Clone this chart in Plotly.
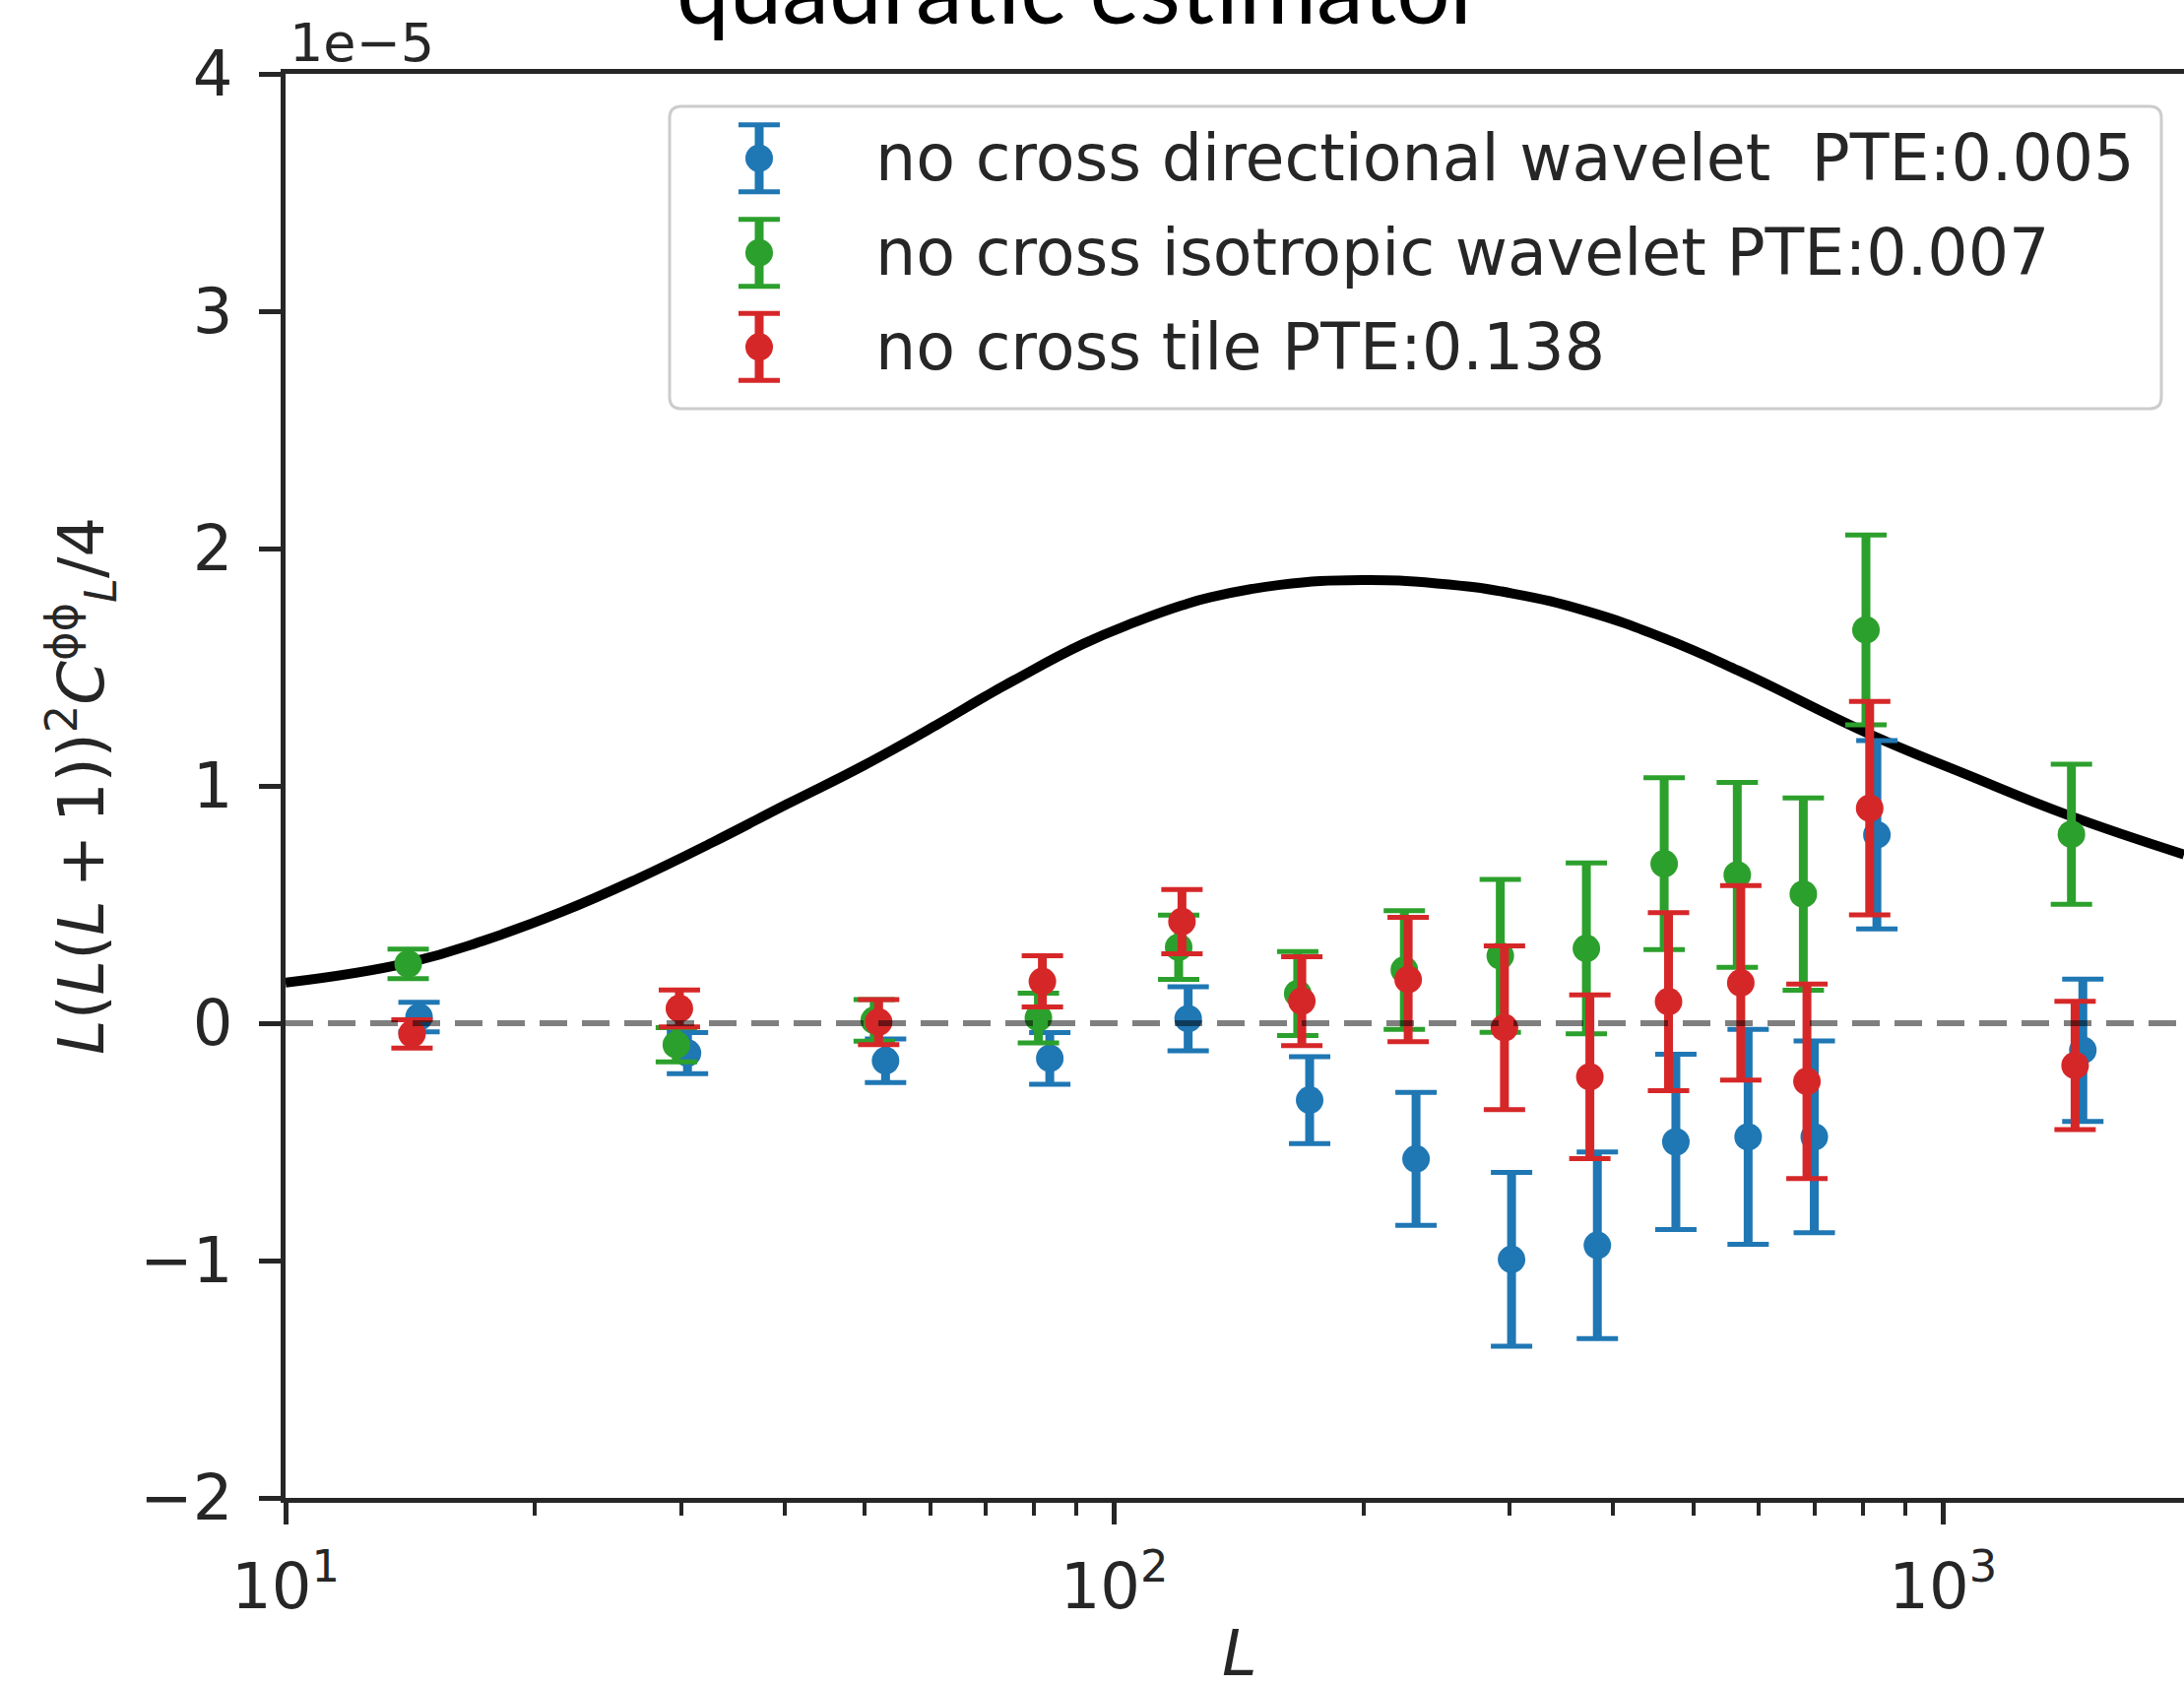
import plotly.graph_objects as go

# ---------------- data (y values in units of 1e-5) ----------------
theory_L = [10, 14.07, 17.47, 21.54, 26.57, 32.75, 40.39, 49.8, 61.4, 69.8, 75.7, 91.7,
            106, 120.6, 130.8, 158.5, 198.8, 245.1, 302.1, 372.6, 459.3, 566.2, 818,
            1076, 1415, 1954]
theory_val = [0.171, 0.255, 0.352, 0.469, 0.608, 0.762, 0.925, 1.085, 1.262, 1.376, 1.445,
              1.598, 1.690, 1.760, 1.795, 1.847, 1.867, 1.853, 1.811, 1.735, 1.624, 1.486,
              1.216, 1.043, 0.877, 0.711]

dir_L = [14.49, 30.55, 52.97, 83.6, 122.8, 172.1, 231.3, 301.6, 382.8, 476.1, 582.0, 699.4, 832.3, 1475]
dir_y = [0.026, -0.126, -0.158, -0.148, 0.019, -0.324, -0.572, -0.995, -0.936, -0.500, -0.479, -0.479, 0.794, -0.114]
dir_err = [0.062, 0.087, 0.092, 0.109, 0.135, 0.183, 0.280, 0.366, 0.393, 0.369, 0.453, 0.404, 0.397, 0.300]

iso_L = [14.06, 29.62, 51.33, 81.0, 119.6, 166.5, 223.9, 292.3, 371.3, 460.9, 564.7, 678.4, 807.4, 1429]
iso_y = [0.250, -0.091, 0.012, 0.022, 0.320, 0.125, 0.224, 0.284, 0.315, 0.672, 0.625, 0.544, 1.657, 0.796]
iso_err = [0.062, 0.072, 0.088, 0.105, 0.135, 0.177, 0.250, 0.322, 0.360, 0.362, 0.390, 0.405, 0.400, 0.295]

tile_L = [14.21, 29.87, 51.96, 81.9, 120.7, 168.4, 226.3, 295.7, 374.9, 466.5, 570.2, 685.3, 815.8, 1443.6]
tile_y = [-0.045, 0.062, 0.005, 0.176, 0.428, 0.093, 0.184, -0.019, -0.226, 0.091, 0.170, -0.245, 0.906, -0.178]
tile_err = [0.060, 0.078, 0.095, 0.108, 0.135, 0.187, 0.262, 0.345, 0.345, 0.375, 0.410, 0.410, 0.450, 0.270]

series_names = ["no cross directional wavelet\u00a0 PTE:0.005",
                "no cross isotropic wavelet PTE:0.007",
                "no cross tile PTE:0.138"]
series_colors = ["#1f77b4", "#2ca02c", "#d62728"]

x_tickvals = [10, 100, 1000]
x_ticktext = ["10<sup>1</sup>", "10<sup>2</sup>", "10<sup>3</sup>"]
x_minor_vals = [20, 30, 40, 50, 60, 70, 80, 90, 200, 300, 400, 500, 600, 700, 800, 900, 2000]
y_tickvals = [-2, -1, 0, 1, 2, 3, 4]
y_ticktext = ["\u22122", "\u22121", "0", "1", "2", "3", "4"]

title_text = "quadratic estimator"
offset_text = "1e\u22125"
x_label = "<i>L</i>"
y_label = ("<i>L</i>(<i>L</i>(<i>L</i>\u2009+\u20091))<sup>2</sup><i>C</i>"
           "<sup>\u03d5\u03d5</sup><sub><i>L</i></sub>/4")

# ---------------- layout geometry (pixels) ----------------
W, H = 2218, 1711
PX0, PX1, PY0, PY1 = 290, 2218, 75, 1521
PW, PH = PX1 - PX0, PY1 - PY0
DECADE_PX = 841.6
x_range = [1, 1 + PW / DECADE_PX]


def px_x(px):
    return (px - PX0) / PW


def px_y(py):
    return (PY1 - py) / PH


FONT = "DejaVu Sans"
TXT = "#262626"
SPINE = "#262626"
MARKER = 28

fig = go.Figure()

# theory curve
fig.add_trace(go.Scatter(x=theory_L, y=theory_val, mode="lines",
                         line=dict(color="black", width=10, shape="spline", smoothing=1.3),
                         showlegend=False, hoverinfo="skip"))

all_series = [(dir_L, dir_y, dir_err), (iso_L, iso_y, iso_err), (tile_L, tile_y, tile_err)]
for (Ls, ys, es), col, name in zip(all_series, series_colors, series_names):
    # thick bars (no caps)
    fig.add_trace(go.Scatter(x=Ls, y=ys, mode="markers",
                             marker=dict(size=2, color=col, opacity=0),
                             error_y=dict(type="data", array=es, color=col, thickness=9, width=0),
                             showlegend=False, hoverinfo="skip"))
    # caps + markers
    fig.add_trace(go.Scatter(x=Ls, y=ys, mode="markers", name=name,
                             marker=dict(size=MARKER, color=col),
                             error_y=dict(type="data", array=es, color=col, thickness=5, width=21),
                             showlegend=False))

# ---------- custom legend (glyphs on an overlay axis in plot-fraction units) ----------
leg_glyph_x = px_x(771)
leg_rows_py = [160.7, 256.7, 352.3]
leg_half = 34 / PH
for py, col in zip(leg_rows_py, series_colors):
    yy = px_y(py)
    fig.add_trace(go.Scatter(x=[leg_glyph_x], y=[yy], mode="markers", xaxis="x2", yaxis="y2",
                             marker=dict(size=2, color=col, opacity=0),
                             error_y=dict(type="data", array=[leg_half], color=col, thickness=9, width=0),
                             showlegend=False, hoverinfo="skip"))
    fig.add_trace(go.Scatter(x=[leg_glyph_x], y=[yy], mode="markers", xaxis="x2", yaxis="y2",
                             marker=dict(size=MARKER, color=col),
                             error_y=dict(type="data", array=[leg_half], color=col, thickness=5, width=21),
                             showlegend=False, hoverinfo="skip"))

# legend frame (rounded rectangle)
bx0, bx1 = px_x(680), px_x(2195)
by0, by1 = px_y(415), px_y(108)
rx, ry = 12 / PW, 12 / PH
path = (f"M {bx0+rx},{by1} L {bx1-rx},{by1} Q {bx1},{by1} {bx1},{by1-ry} "
        f"L {bx1},{by0+ry} Q {bx1},{by0} {bx1-rx},{by0} L {bx0+rx},{by0} "
        f"Q {bx0},{by0} {bx0},{by0+ry} L {bx0},{by1-ry} Q {bx0},{by1} {bx0+rx},{by1} Z")

shapes = [
    dict(type="path", path=path, xref="paper", yref="paper", layer="below",
         fillcolor="rgba(255,255,255,0.8)", line=dict(color="#cccccc", width=3)),
    dict(type="line", xref="paper", x0=0, x1=1, yref="y", y0=0, y1=0, layer="above",
         line=dict(color="rgba(0,0,0,0.5)", width=6, dash="28px,15px")),
]

annotations = []
for py, name in zip(leg_rows_py, series_names):
    annotations.append(dict(text=name, xref="paper", yref="paper", x=px_x(887), y=px_y(py),
                            xanchor="left", yanchor="middle", showarrow=False,
                            font=dict(family=FONT, size=65, color=TXT)))

annotations += [
    dict(text=title_text, xref="paper", yref="paper", x=px_x(1097), y=px_y(46),
         xanchor="center", yanchor="bottom", showarrow=False,
         font=dict(family="Lato", size=96, color="black")),
    dict(text=offset_text, xref="paper", yref="paper", x=px_x(292), y=px_y(43),
         xanchor="left", yanchor="middle", showarrow=False,
         font=dict(family=FONT, size=54, color=TXT)),
    dict(text=x_label, xref="paper", yref="paper", x=px_x(1259), y=px_y(1679),
         xanchor="center", yanchor="middle", showarrow=False,
         font=dict(family=FONT, size=64, color=TXT)),
    dict(text=y_label, xref="paper", yref="paper", x=px_x(82), y=px_y(798),
         xanchor="center", yanchor="middle", textangle=-90, showarrow=False,
         font=dict(family=FONT, size=64, color=TXT)),
]

fig.update_layout(
    width=W, height=H, autosize=False,
    margin=dict(l=PX0, r=W - PX1, t=PY0, b=H - PY1, pad=0),
    paper_bgcolor="white", plot_bgcolor="rgba(0,0,0,0)",
    showlegend=False,
    font=dict(family=FONT, size=64, color=TXT),
    xaxis=dict(type="log", range=x_range, showgrid=False, zeroline=False,
               showline=True, linecolor=SPINE, linewidth=4.5, mirror=True,
               ticks="outside", ticklen=22, tickwidth=4.5, tickcolor=SPINE,
               tickvals=x_tickvals, ticktext=x_ticktext,
               tickfont=dict(family=FONT, size=64, color=TXT), ticklabelstandoff=8,
               minor=dict(ticks="outside", ticklen=13, tickwidth=3.5, tickcolor=SPINE,
                          tickvals=x_minor_vals, showgrid=False)),
    yaxis=dict(range=[-2, 4], showgrid=False, zeroline=False,
               showline=True, linecolor=SPINE, linewidth=4.5, mirror=False,
               ticks="outside", ticklen=22, tickwidth=4.5, tickcolor=SPINE,
               tickvals=y_tickvals, ticktext=y_ticktext,
               tickfont=dict(family=FONT, size=64, color=TXT), ticklabelstandoff=14),
    xaxis2=dict(overlaying="x", anchor="y2", range=[0, 1], visible=False, fixedrange=True),
    yaxis2=dict(overlaying="y", anchor="x2", range=[0, 1], visible=False, fixedrange=True),
    shapes=shapes,
    annotations=annotations,
)

fig.write_html("out.html", config={"displayModeBar": False})
